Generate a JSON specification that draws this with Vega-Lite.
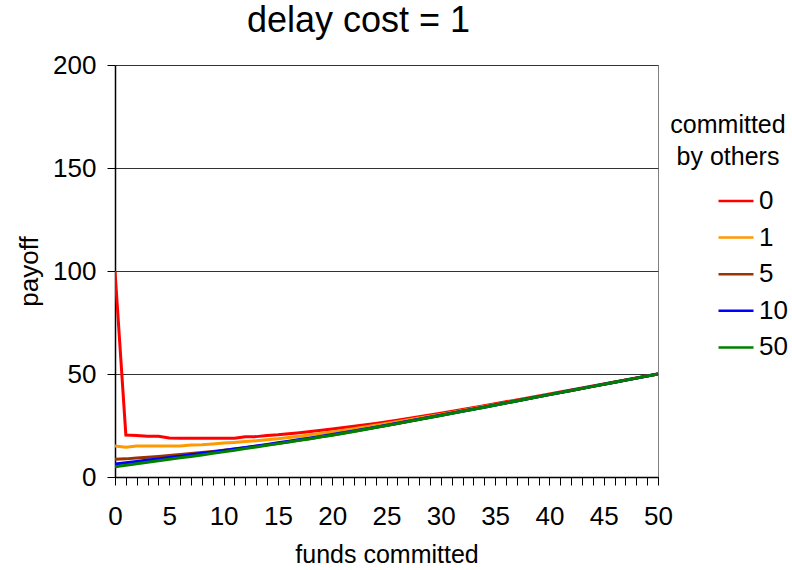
{
  "$schema": "https://vega.github.io/schema/vega-lite/v6.json",
  "width": 543,
  "height": 412,
  "autosize": {"type": "none"},
  "padding": {"left": 115, "top": 65, "right": 134, "bottom": 93},
  "background": "white",
  "title": {"text": "delay cost = 1", "fontSize": 36, "font": "Liberation Sans", "fontWeight": "normal", "color": "black", "anchor": "middle", "dx": -28, "offset": 12},
  "config": {
    "font": "Liberation Sans",
    "view": {"stroke": "#808080", "strokeWidth": 1}
  },
  "data": {"values": [
    {"x":0,"s":"0","y":100},{"x":1,"s":"0","y":20.4},{"x":2,"s":"0","y":20.2},{"x":3,"s":"0","y":19.8},{"x":4,"s":"0","y":19.8},{"x":5,"s":"0","y":18.9},{"x":6,"s":"0","y":18.8},{"x":7,"s":"0","y":18.8},{"x":8,"s":"0","y":18.8},{"x":9,"s":"0","y":18.8},{"x":10,"s":"0","y":18.8},{"x":11,"s":"0","y":18.8},{"x":12,"s":"0","y":19.5},{"x":13,"s":"0","y":19.6},{"x":14,"s":"0","y":20.2},{"x":15,"s":"0","y":20.5},{"x":16,"s":"0","y":21.0},{"x":17,"s":"0","y":21.5},{"x":18,"s":"0","y":22.1},{"x":19,"s":"0","y":22.7},{"x":20,"s":"0","y":23.3},{"x":22,"s":"0","y":24.6},{"x":24,"s":"0","y":26.0},{"x":26,"s":"0","y":27.5},{"x":28,"s":"0","y":29.2},{"x":30,"s":"0","y":31.0},{"x":32,"s":"0","y":32.8},{"x":34,"s":"0","y":34.6},{"x":36,"s":"0","y":36.5},{"x":38,"s":"0","y":38.4},{"x":40,"s":"0","y":40.3},{"x":42,"s":"0","y":42.2},{"x":44,"s":"0","y":44.2},{"x":46,"s":"0","y":46.1},{"x":48,"s":"0","y":48.1},{"x":50,"s":"0","y":50},
    {"x":0,"s":"1","y":15.0},{"x":1,"s":"1","y":14.4},{"x":2,"s":"1","y":15.0},{"x":3,"s":"1","y":15.1},{"x":4,"s":"1","y":15.1},{"x":5,"s":"1","y":15.1},{"x":6,"s":"1","y":15.1},{"x":7,"s":"1","y":15.5},{"x":8,"s":"1","y":15.6},{"x":9,"s":"1","y":16.0},{"x":10,"s":"1","y":16.5},{"x":11,"s":"1","y":16.8},{"x":12,"s":"1","y":17.2},{"x":13,"s":"1","y":17.6},{"x":14,"s":"1","y":18.1},{"x":15,"s":"1","y":18.6},{"x":16,"s":"1","y":19.2},{"x":17,"s":"1","y":19.8},{"x":18,"s":"1","y":20.5},{"x":19,"s":"1","y":21.2},{"x":20,"s":"1","y":21.9},{"x":22,"s":"1","y":23.4},{"x":24,"s":"1","y":25.1},{"x":26,"s":"1","y":26.8},{"x":28,"s":"1","y":28.6},{"x":30,"s":"1","y":30.4},{"x":32,"s":"1","y":32.3},{"x":34,"s":"1","y":34.2},{"x":36,"s":"1","y":36.1},{"x":38,"s":"1","y":38.1},{"x":40,"s":"1","y":40.1},{"x":42,"s":"1","y":42.0},{"x":44,"s":"1","y":44.0},{"x":46,"s":"1","y":46.0},{"x":48,"s":"1","y":48.0},{"x":50,"s":"1","y":50},
    {"x":0,"s":"5","y":8.6},{"x":1,"s":"5","y":8.8},{"x":2,"s":"5","y":9.2},{"x":3,"s":"5","y":9.6},{"x":4,"s":"5","y":10.0},{"x":5,"s":"5","y":10.4},{"x":6,"s":"5","y":10.9},{"x":7,"s":"5","y":11.4},{"x":8,"s":"5","y":11.9},{"x":9,"s":"5","y":12.4},{"x":10,"s":"5","y":13.0},{"x":11,"s":"5","y":13.6},{"x":12,"s":"5","y":14.2},{"x":13,"s":"5","y":14.9},{"x":14,"s":"5","y":15.6},{"x":15,"s":"5","y":16.3},{"x":16,"s":"5","y":17.1},{"x":17,"s":"5","y":17.9},{"x":18,"s":"5","y":18.7},{"x":19,"s":"5","y":19.5},{"x":20,"s":"5","y":20.4},{"x":22,"s":"5","y":22.2},{"x":24,"s":"5","y":24.1},{"x":26,"s":"5","y":26.0},{"x":28,"s":"5","y":28.0},{"x":30,"s":"5","y":30.0},{"x":32,"s":"5","y":32.0},{"x":34,"s":"5","y":34.0},{"x":36,"s":"5","y":36.0},{"x":38,"s":"5","y":38.0},{"x":40,"s":"5","y":40.0},{"x":42,"s":"5","y":42.0},{"x":44,"s":"5","y":44.0},{"x":46,"s":"5","y":46.0},{"x":48,"s":"5","y":48.0},{"x":50,"s":"5","y":50},
    {"x":0,"s":"10","y":6.3},{"x":1,"s":"10","y":6.9},{"x":2,"s":"10","y":7.5},{"x":3,"s":"10","y":8.2},{"x":4,"s":"10","y":8.8},{"x":5,"s":"10","y":9.5},{"x":6,"s":"10","y":10.1},{"x":7,"s":"10","y":10.8},{"x":8,"s":"10","y":11.5},{"x":9,"s":"10","y":12.2},{"x":10,"s":"10","y":12.9},{"x":11,"s":"10","y":13.6},{"x":12,"s":"10","y":14.3},{"x":13,"s":"10","y":15.0},{"x":14,"s":"10","y":15.8},{"x":15,"s":"10","y":16.6},{"x":16,"s":"10","y":17.4},{"x":17,"s":"10","y":18.2},{"x":18,"s":"10","y":19.0},{"x":19,"s":"10","y":19.8},{"x":20,"s":"10","y":20.6},{"x":22,"s":"10","y":22.4},{"x":24,"s":"10","y":24.2},{"x":26,"s":"10","y":26.1},{"x":28,"s":"10","y":28.0},{"x":30,"s":"10","y":30.0},{"x":32,"s":"10","y":31.9},{"x":34,"s":"10","y":33.9},{"x":36,"s":"10","y":35.9},{"x":38,"s":"10","y":38.0},{"x":40,"s":"10","y":40.0},{"x":42,"s":"10","y":42.0},{"x":44,"s":"10","y":44.0},{"x":46,"s":"10","y":46.0},{"x":48,"s":"10","y":48.0},{"x":50,"s":"10","y":50},
    {"x":0,"s":"50","y":5.0},{"x":1,"s":"50","y":5.7},{"x":2,"s":"50","y":6.4},{"x":3,"s":"50","y":7.2},{"x":4,"s":"50","y":7.9},{"x":5,"s":"50","y":8.6},{"x":6,"s":"50","y":9.3},{"x":7,"s":"50","y":10.0},{"x":8,"s":"50","y":10.7},{"x":9,"s":"50","y":11.5},{"x":10,"s":"50","y":12.2},{"x":11,"s":"50","y":13.0},{"x":12,"s":"50","y":13.8},{"x":13,"s":"50","y":14.6},{"x":14,"s":"50","y":15.4},{"x":15,"s":"50","y":16.2},{"x":16,"s":"50","y":17.0},{"x":17,"s":"50","y":17.8},{"x":18,"s":"50","y":18.6},{"x":19,"s":"50","y":19.5},{"x":20,"s":"50","y":20.3},{"x":22,"s":"50","y":22.1},{"x":24,"s":"50","y":24.0},{"x":26,"s":"50","y":25.9},{"x":28,"s":"50","y":27.9},{"x":30,"s":"50","y":29.9},{"x":32,"s":"50","y":31.9},{"x":34,"s":"50","y":33.9},{"x":36,"s":"50","y":35.9},{"x":38,"s":"50","y":38.0},{"x":40,"s":"50","y":40.0},{"x":42,"s":"50","y":42.0},{"x":44,"s":"50","y":44.0},{"x":46,"s":"50","y":46.0},{"x":48,"s":"50","y":48.0},{"x":50,"s":"50","y":50}
  ]},
  "mark": {"type": "line", "strokeWidth": 3, "clip": true},
  "encoding": {
    "x": {
      "field": "x", "type": "quantitative",
      "scale": {"domain": [0, 50], "nice": false, "zero": false},
      "axis": {
        "title": "funds committed",
        "values": [0,1,2,3,4,5,6,7,8,9,10,11,12,13,14,15,16,17,18,19,20,21,22,23,24,25,26,27,28,29,30,31,32,33,34,35,36,37,38,39,40,41,42,43,44,45,46,47,48,49,50],
        "labelExpr": "datum.value % 5 === 0 ? datum.label : ''",
        "grid": false,
        "domainColor": "black", "domainWidth": 1.5,
        "tickColor": "black", "tickSize": 8, "tickWidth": 1,
        "labelFontSize": 26, "labelColor": "black", "labelPadding": 18, "labelFlush": false,
        "labelOverlap": false,
        "titleFontSize": 25, "titleFontWeight": "normal", "titleColor": "black", "titlePadding": 13
      }
    },
    "y": {
      "field": "y", "type": "quantitative",
      "scale": {"domain": [0, 200], "nice": false},
      "axis": {
        "title": "payoff",
        "values": [0, 50, 100, 150, 200],
        "grid": true, "gridColor": "#333333", "gridWidth": 1,
        "domainColor": "black", "domainWidth": 1.5,
        "tickColor": "black", "tickSize": 8,
        "labelFontSize": 26, "labelColor": "black", "labelPadding": 11,
        "titleFontSize": 26, "titleFontWeight": "normal", "titleColor": "black", "titlePadding": 10
      }
    },
    "color": {
      "field": "s", "type": "nominal",
      "scale": {"domain": ["0", "1", "5", "10", "50"], "range": ["#FF0000", "#FF9900", "#993300", "#0000FF", "#008000"]},
      "legend": {
        "title": ["committed", "by others"],
        "orient": "none", "legendX": 553, "legendY": 48,
        "titleFontSize": 25, "titleFontWeight": "normal", "titleColor": "black", "titleLineHeight": 32,
        "titleAlign": "center", "titleAnchor": "middle", "titlePadding": 12,
        "symbolType": "stroke", "symbolSize": 1225, "symbolStrokeWidth": 2.5, "symbolOffset": 49,
        "labelFontSize": 26, "labelColor": "black", "labelOffset": 4,
        "rowPadding": 4.6
      }
    }
  }
}
